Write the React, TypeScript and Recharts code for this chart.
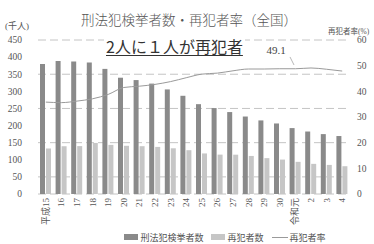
import React from 'react';
import { ComposedChart, Bar, Line, XAxis, YAxis, CartesianGrid, Legend, LabelList } from 'recharts';

const categories = ['平成15', '16', '17', '18', '19', '20', '21', '22', '23', '24', '25', '26', '27', '28', '29', '30', '令和元', '2', '3', '4'];
const arrested = [379.6, 389.0, 386.9, 384.3, 365.6, 339.8, 332.9, 322.6, 305.6, 287.0, 262.5, 251.1, 239.4, 226.4, 215.0, 206.1, 192.6, 182.6, 175.0, 169.4];
const reoffenders = [133.0, 139.6, 140.0, 149.2, 143.5, 140.9, 139.7, 137.6, 133.6, 128.0, 118.5, 115.1, 114.9, 111.2, 104.8, 100.6, 94.0, 88.1, 85.0, 81.2];
const rate = [35.8, 35.6, 36.2, 37.1, 38.8, 41.5, 42.0, 42.7, 43.8, 45.3, 46.7, 47.1, 48.0, 48.7, 48.7, 48.8, 48.8, 49.1, 48.6, 47.9];
const leftTicks = [0, 50, 100, 150, 200, 250, 300, 350, 400, 450];
const rightTicks = [0, 10, 20, 30, 40, 50, 60];
const seriesNames = ['刑法犯検挙者数', '再犯者数', '再犯者率'];
const labelIndex = 17;

const data = categories.map((c, i) => ({ name: c, arrested: arrested[i], reoffenders: reoffenders[i], rate: rate[i] }));

const FONT = '"Liberation Serif", "Noto Sans CJK JP", serif';
const DARK = '#8a8a8a';
const LIGHT = '#c6c6c6';
const LINE = '#9a9a9a';

const XTick = (props: any) => {
  const { x, y, payload } = props;
  return (
    <text x={x} y={y} transform={`rotate(-90, ${x}, ${y})`} dy={3} textAnchor="end" fontSize={9} fill="#555" fontFamily={FONT}>
      {payload.value}
    </text>
  );
};

const RateLabel = (props: any) => {
  const { x, y, index } = props;
  if (index !== labelIndex) return null;
  return (
    <g>
      <line x1={x - 21} y1={y - 11} x2={x - 17} y2={y - 3} stroke="#999" strokeWidth={0.7} />
      <text x={x - 35} y={y - 14} textAnchor="middle" fontSize={11} fill="#444" fontFamily={FONT}>{rate[index]}</text>
    </g>
  );
};

const LegendContent = () => (
  <div style={{ height: 14, display: 'flex', alignItems: 'center', justifyContent: 'center', fontFamily: FONT, fontSize: 9, color: '#555', paddingLeft: 76 }}>
    <span style={{ display: 'inline-block', width: 14, height: 6, background: DARK, marginRight: 2 }} />
    <span style={{ marginRight: 8 }}>{seriesNames[0]}</span>
    <span style={{ display: 'inline-block', width: 14, height: 6, background: LIGHT, marginRight: 2 }} />
    <span style={{ marginRight: 8 }}>{seriesNames[1]}</span>
    <span style={{ display: 'inline-block', width: 16, height: 1, background: LINE, marginRight: 2 }} />
    <span>{seriesNames[2]}</span>
  </div>
);

export default function App() {
  return (
    <div style={{ position: 'absolute', left: 0, top: 0, width: 374, height: 244, background: '#fff' }}>
      <ComposedChart width={374} height={244} data={data} margin={{ top: 40, right: 0, bottom: 0, left: 0 }} barGap={1} barCategoryGap="18%">
        <CartesianGrid vertical={false} stroke="#c4c4c4" strokeDasharray="8 4" yAxisId="left" />
        <XAxis dataKey="name" interval={0} height={36} tick={<XTick />} tickLine={false} axisLine={false} tickSize={0} tickMargin={4} />
        <YAxis yAxisId="left" domain={[0, 450]} ticks={leftTicks} width={38} tickLine={false} axisLine={false} tickSize={0} tickMargin={16} tick={{ fontSize: 9.5, fill: '#555', fontFamily: FONT }} />
        <YAxis yAxisId="right" orientation="right" domain={[0, 60]} ticks={rightTicks} width={24} tickLine={false} axisLine={false} tickSize={0} tickMargin={7} tick={{ fontSize: 9.5, fill: '#555', fontFamily: FONT, textAnchor: 'start' }} />
        <Bar yAxisId="left" dataKey="arrested" fill={DARK} barSize={5} isAnimationActive={false} />
        <Bar yAxisId="left" dataKey="reoffenders" fill={LIGHT} barSize={5} isAnimationActive={false} />
        <Line yAxisId="right" dataKey="rate" type="monotone" stroke={LINE} strokeWidth={1} dot={false} isAnimationActive={false}>
          <LabelList dataKey="rate" content={<RateLabel />} />
        </Line>
        <Legend verticalAlign="bottom" content={<LegendContent />} />
      </ComposedChart>
      <div style={{ position: 'absolute', left: 0, top: 0, width: 374, height: 244, pointerEvents: 'none', fontFamily: FONT, color: '#555' }}>
        <div style={{ position: 'absolute', left: 81, top: 9, fontSize: 13.5, whiteSpace: 'nowrap', fontFamily: '"Noto Sans CJK JP", sans-serif', fontWeight: 300, color: '#555' }}>刑法犯検挙者数・再犯者率（全国）</div>
        <div style={{ position: 'absolute', left: 5, top: 19, fontSize: 9, whiteSpace: 'nowrap' }}>(千人)</div>
        <div style={{ position: 'absolute', left: 328, top: 25, fontSize: 7.5, whiteSpace: 'nowrap' }}>再犯者率(%)</div>
        <div style={{ position: 'absolute', left: 104, top: 37, fontSize: 16, whiteSpace: 'nowrap', fontFamily: '"Noto Sans CJK JP", sans-serif', color: '#333', textDecoration: 'underline', textDecorationThickness: 1, textUnderlineOffset: 2, background: '#fff', lineHeight: '19px', padding: '0 2px' }}>2人に１人が再犯者</div>
      </div>
    </div>
  );
}
